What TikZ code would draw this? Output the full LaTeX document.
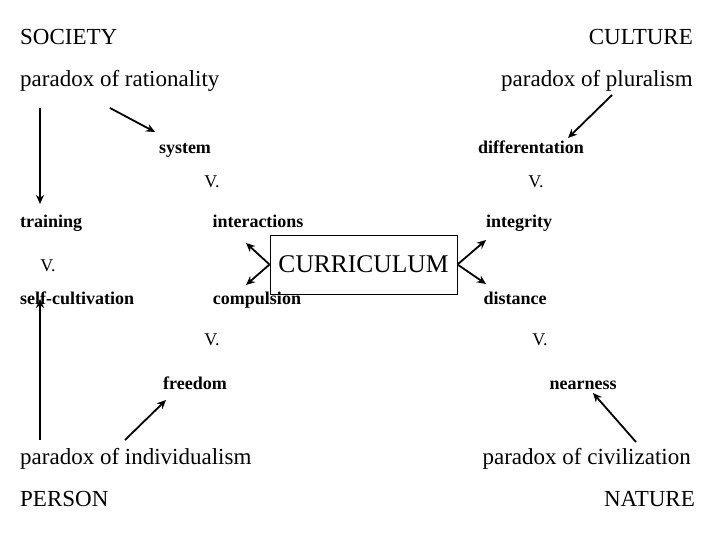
\documentclass[tikz,border=0pt]{standalone}
\usepackage{fontspec}
\setmainfont{Liberation Serif}
\usetikzlibrary{arrows.meta}
\begin{document}
\begin{tikzpicture}[x=1pt,y=-1pt,
big/.style={font=\fontsize{23}{26}\selectfont,inner sep=0pt,text height=0.68em,text depth=0.22em,yshift=-4pt},
lab/.style={font=\fontsize{18}{20}\selectfont\bfseries,inner sep=0pt,text height=0.68em,text depth=0.22em,yshift=-3pt},
vv/.style={font=\fontsize{18}{20}\selectfont,inner sep=0pt,text height=0.68em,text depth=0.22em,yshift=-3pt},
arr/.style={-{Stealth[length=9pt,width=8pt]},line width=1.8pt}]
\useasboundingbox (0,0) rectangle (720,540);
\node[big,anchor=west] (soc) at (20,38) {SOCIETY};
\node[big,anchor=east] (cul) at (693,38) {CULTURE};
\node[big,anchor=west] (rat) at (20,80) {paradox of rationality};
\node[big,anchor=east] (plu) at (693,80) {paradox of pluralism};
\node[lab] (sys) at (185,148) {system};
\node[lab] (dif) at (531,148) {differentation};
\node[vv] (v1) at (212,182) {V.};
\node[vv] (v2) at (536,182) {V.};
\node[lab,anchor=west] (tra) at (20,222) {training};
\node[lab] (int) at (258,222) {interactions};
\node[lab] (ing) at (519,222) {integrity};
\node[vv] (v3) at (48,266) {V.};
\node[draw,line width=1pt,minimum width=187pt,minimum height=59pt,inner sep=0pt,font=\fontsize{25.5}{28}\selectfont] (cur) at (363.5,264.5) {CURRICULUM};
\node[lab,anchor=west] (sel) at (20,299) {self-cultivation};
\node[lab] (com) at (257,299) {compulsion};
\node[lab] (dis) at (515,299) {distance};
\node[vv] (v4) at (212,340) {V.};
\node[vv] (v5) at (540,340) {V.};
\node[lab] (fre) at (195,384) {freedom};
\node[lab] (nea) at (583,384) {nearness};
\node[big,anchor=west] (ind) at (20,458) {paradox of individualism};
\node[big,anchor=east] (civ) at (691,458) {paradox of civilization};
\node[big,anchor=west] (per) at (20,500) {PERSON};
\node[big,anchor=east] (nat) at (695,500) {NATURE};
\coordinate (a1) at (40,108); \coordinate (a2) at (40,204);
\coordinate (b1) at (110,108); \coordinate (b2) at (155,132);
\coordinate (c1) at (612,95); \coordinate (c2) at (568,138);
\coordinate (d1) at (40,440); \coordinate (d2) at (40,299);
\coordinate (e1) at (125,440); \coordinate (e2) at (166,400);
\coordinate (f1) at (636,442); \coordinate (f2) at (593,393);
\coordinate (g1) at (246,243); \coordinate (g2) at (246,285);
\coordinate (h1) at (486,240); \coordinate (h2) at (486,284);
\draw[arr] (a1) -- (a2);
\draw[arr] (b1) -- (b2);
\draw[arr] (c1) -- (c2);
\draw[arr] (d1) -- (d2);
\draw[arr] (e1) -- (e2);
\draw[arr] (f1) -- (f2);
\draw[arr] (cur.west) -- (g1);
\draw[arr] (cur.west) -- (g2);
\draw[arr] (cur.east) -- (h1);
\draw[arr] (cur.east) -- (h2);
\end{tikzpicture}
\end{document}
